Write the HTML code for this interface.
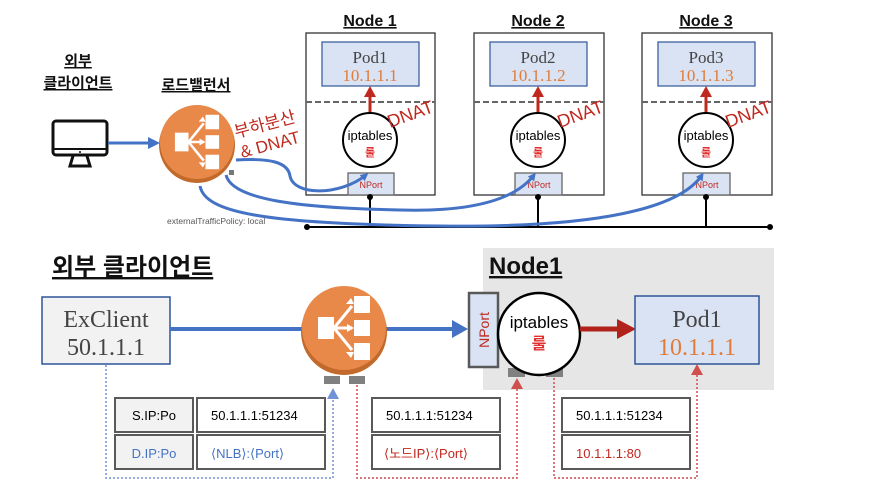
<!DOCTYPE html>
<html><head><meta charset="utf-8"><style>
body{margin:0;background:#fff}
svg{display:block;font-family:"Liberation Sans","Noto Sans CJK KR",sans-serif}
.serif{font-family:"Liberation Serif","Noto Serif CJK SC",serif}
</style></head><body>
<svg width="893" height="503" viewBox="0 0 893 503" xmlns="http://www.w3.org/2000/svg">
<defs>
<marker id="ab" markerWidth="8" markerHeight="8" refX="5" refY="4" orient="auto" markerUnits="userSpaceOnUse"><path d="M0,0 L8,4 L0,8z" fill="#4472C4"/></marker>
<g id="lbicon">
<rect x="-26" y="-11" width="16" height="22" fill="#fff"/>
<rect x="10" y="-32" width="16" height="17" fill="#fff"/>
<rect x="10" y="-8" width="16" height="16" fill="#fff"/>
<rect x="10" y="15" width="16" height="17" fill="#fff"/>
<path d="M-10,0 L8,-22 M-10,0 L8,0 M-10,0 L8,22" stroke="#fff" stroke-width="3"/>
<path d="M10,-24 l-8,0 l5,-6z M10,0 l-7,-4 l0,8z M10,24 l-8,0 l5,6z" fill="#fff"/>
</g>
</defs>

<!-- TOP -->
<g font-weight="bold" font-size="15" fill="#111">
<text x="78" y="66" text-anchor="middle" text-decoration="underline">외부</text>
<text x="78" y="88" text-anchor="middle" text-decoration="underline">클라이언트</text>
<text x="196" y="90" text-anchor="middle" text-decoration="underline">로드밸런서</text>
<text x="370" y="26" text-anchor="middle" text-decoration="underline" font-size="16">Node 1</text>
<text x="538" y="26" text-anchor="middle" text-decoration="underline" font-size="16">Node 2</text>
<text x="706" y="26" text-anchor="middle" text-decoration="underline" font-size="16">Node 3</text>
</g>
<!-- monitor -->
<rect x="53" y="121" width="54" height="34" rx="3" fill="none" stroke="#111" stroke-width="3"/>
<line x1="53" y1="149" x2="107" y2="149" stroke="#111" stroke-width="2"/>
<circle cx="80" cy="152" r="1" fill="#111"/>
<path d="M73,156 L70,166 L90,166 L87,156" fill="none" stroke="#111" stroke-width="3"/>
<line x1="108" y1="143" x2="150" y2="143" stroke="#4472C4" stroke-width="3"/>
<path d="M148,137 L160,143 L148,149z" fill="#4472C4"/>
<!-- LB top -->
<rect x="229" y="170" width="5" height="5" fill="#777"/>
<circle cx="197" cy="145" r="38" fill="#C26A2C"/>
<circle cx="197" cy="142" r="37" fill="#E8894A"/>
<use href="#lbicon" transform="translate(197,142) scale(0.85)"/>
<g fill="#C0281E" font-size="17">
<text transform="translate(236,138) rotate(-15)">부하분산</text>
<text transform="translate(242,158) rotate(-15)">&amp; DNAT</text>
</g>
<text x="167" y="224" font-size="8.5" fill="#555">externalTrafficPolicy: local</text>

<!-- Nodes -->
<g>
<rect x="306" y="33" width="129" height="162" fill="#fff" stroke="#333" stroke-width="1.3"/>
<rect x="322" y="42" width="97" height="44" fill="#DAE3F3" stroke="#2F5597" stroke-width="1.2"/>
<text x="370" y="63" text-anchor="middle" class="serif" font-size="17" fill="#444">Pod1</text>
<text x="370" y="81" text-anchor="middle" class="serif" font-size="17" fill="#E07B39">10.1.1.1</text>
<line x1="306" y1="102" x2="435" y2="102" stroke="#666" stroke-width="2" stroke-dasharray="6,3"/>
<line x1="370" y1="113" x2="370" y2="96" stroke="#C0281E" stroke-width="3"/>
<path d="M364,97 L370,86 L376,97z" fill="#C0281E"/>
<circle cx="370" cy="140" r="27" fill="#fff" stroke="#000" stroke-width="2"/>
<text x="370" y="140" text-anchor="middle" font-size="13">iptables</text>
<text x="370" y="156" text-anchor="middle" font-size="11" fill="#E03030" font-weight="bold">룰</text>
<rect x="348" y="173" width="46" height="22" fill="#DAE3F3" stroke="#666" stroke-width="1.3"/>
<text x="371" y="188" text-anchor="middle" font-size="9" fill="#C0281E">NPort</text>
<text transform="translate(390,128) rotate(-20)" font-size="18" fill="#C0281E">DNAT</text>
<circle cx="370" cy="197" r="3" fill="#000"/>
<line x1="370" y1="197" x2="370" y2="227" stroke="#000" stroke-width="2"/>
</g>
<g>
<rect x="474" y="33" width="130" height="162" fill="#fff" stroke="#333" stroke-width="1.3"/>
<rect x="490" y="42" width="97" height="44" fill="#DAE3F3" stroke="#2F5597" stroke-width="1.2"/>
<text x="538" y="63" text-anchor="middle" class="serif" font-size="17" fill="#444">Pod2</text>
<text x="538" y="81" text-anchor="middle" class="serif" font-size="17" fill="#E07B39">10.1.1.2</text>
<line x1="474" y1="102" x2="604" y2="102" stroke="#666" stroke-width="2" stroke-dasharray="6,3"/>
<line x1="538" y1="113" x2="538" y2="96" stroke="#C0281E" stroke-width="3"/>
<path d="M532,97 L538,86 L544,97z" fill="#C0281E"/>
<circle cx="538" cy="140" r="27" fill="#fff" stroke="#000" stroke-width="2"/>
<text x="538" y="140" text-anchor="middle" font-size="13">iptables</text>
<text x="538" y="156" text-anchor="middle" font-size="11" fill="#E03030" font-weight="bold">룰</text>
<rect x="515" y="173" width="47" height="22" fill="#DAE3F3" stroke="#666" stroke-width="1.3"/>
<text x="539" y="188" text-anchor="middle" font-size="9" fill="#C0281E">NPort</text>
<text transform="translate(560,128) rotate(-20)" font-size="18" fill="#C0281E">DNAT</text>
<circle cx="538" cy="197" r="3" fill="#000"/>
<line x1="538" y1="197" x2="538" y2="227" stroke="#000" stroke-width="2"/>
</g>
<g>
<rect x="642" y="33" width="130" height="162" fill="#fff" stroke="#333" stroke-width="1.3"/>
<rect x="658" y="42" width="97" height="44" fill="#DAE3F3" stroke="#2F5597" stroke-width="1.2"/>
<text x="706" y="63" text-anchor="middle" class="serif" font-size="17" fill="#444">Pod3</text>
<text x="706" y="81" text-anchor="middle" class="serif" font-size="17" fill="#E07B39">10.1.1.3</text>
<line x1="642" y1="102" x2="772" y2="102" stroke="#666" stroke-width="2" stroke-dasharray="6,3"/>
<line x1="706" y1="113" x2="706" y2="96" stroke="#C0281E" stroke-width="3"/>
<path d="M700,97 L706,86 L712,97z" fill="#C0281E"/>
<circle cx="706" cy="140" r="27" fill="#fff" stroke="#000" stroke-width="2"/>
<text x="706" y="140" text-anchor="middle" font-size="13">iptables</text>
<text x="706" y="156" text-anchor="middle" font-size="11" fill="#E03030" font-weight="bold">룰</text>
<rect x="683" y="173" width="47" height="22" fill="#DAE3F3" stroke="#666" stroke-width="1.3"/>
<text x="707" y="188" text-anchor="middle" font-size="9" fill="#C0281E">NPort</text>
<text transform="translate(728,128) rotate(-20)" font-size="18" fill="#C0281E">DNAT</text>
<circle cx="706" cy="197" r="3" fill="#000"/>
<line x1="706" y1="197" x2="706" y2="227" stroke="#000" stroke-width="2"/>
</g>
<line x1="307" y1="227" x2="770" y2="227" stroke="#000" stroke-width="2"/>
<circle cx="307" cy="227" r="3" fill="#000"/>
<circle cx="770" cy="227" r="3" fill="#000"/>
<!-- blue curves -->
<g fill="none" stroke="#4472C4" stroke-width="3" marker-end="url(#ab)">
<path d="M236,160 C270,158 288,162 290,176 C294,196 340,196 366,175"/>
<path d="M226,175 C232,200 300,208 400,210 C470,212 515,200 534,175"/>
<path d="M200,186 C205,212 260,224 440,226 C600,228 680,208 702,175"/>
</g>

<!-- BOTTOM -->
<rect x="483" y="248" width="291" height="142" fill="#E6E6E6"/>
<text x="52" y="275" font-size="24" font-weight="bold" text-decoration="underline" fill="#111">외부 클라이언트</text>
<text x="489" y="274" font-size="24" font-weight="bold" text-decoration="underline" fill="#111">Node1</text>
<rect x="42" y="297" width="128" height="67" fill="#F2F2F2" stroke="#2F5597" stroke-width="1.5"/>
<text x="106" y="327" text-anchor="middle" class="serif" font-size="24" fill="#444">ExClient</text>
<text x="106" y="355" text-anchor="middle" class="serif" font-size="24" fill="#444">50.1.1.1</text>
<line x1="170" y1="329" x2="460" y2="329" stroke="#4472C4" stroke-width="4"/>
<path d="M452,320 L468,329 L452,338z" fill="#4472C4"/>
<rect x="324" y="376" width="16" height="8" fill="#808080"/>
<rect x="349" y="376" width="16" height="8" fill="#808080"/>
<circle cx="344" cy="332" r="43" fill="#C26A2C"/>
<circle cx="344" cy="328" r="42" fill="#E8894A"/>
<use href="#lbicon" transform="translate(344,328)"/>
<rect x="469" y="293" width="29" height="74" fill="#DAE3F3" stroke="#595959" stroke-width="2.5"/>
<text transform="translate(489,330) rotate(-90)" text-anchor="middle" font-size="14" fill="#C0281E">NPort</text>
<rect x="508" y="368" width="17" height="9" fill="#808080"/>
<rect x="546" y="368" width="17" height="9" fill="#808080"/>
<circle cx="539" cy="334" r="41" fill="#fff" stroke="#000" stroke-width="2.5"/>
<text x="539" y="328" text-anchor="middle" font-size="17">iptables</text>
<text x="539" y="349" text-anchor="middle" font-size="16" fill="#E03030" font-weight="bold">룰</text>
<line x1="580" y1="329" x2="620" y2="329" stroke="#B0221A" stroke-width="5"/>
<path d="M617,319 L636,329 L617,339z" fill="#B0221A"/>
<rect x="635" y="296" width="124" height="68" fill="#DAE3F3" stroke="#2F5597" stroke-width="1.5"/>
<text x="697" y="327" text-anchor="middle" class="serif" font-size="24" fill="#444">Pod1</text>
<text x="697" y="355" text-anchor="middle" class="serif" font-size="24" fill="#E07B39">10.1.1.1</text>

<!-- tables -->
<g stroke="#595959" stroke-width="2">
<rect x="115" y="398" width="78" height="34" fill="#F2F2F2"/>
<rect x="197" y="398" width="128" height="34" fill="#fff"/>
<rect x="115" y="435" width="78" height="34" fill="#F2F2F2"/>
<rect x="197" y="435" width="128" height="34" fill="#fff"/>
<rect x="372" y="398" width="128" height="34" fill="#fff"/>
<rect x="372" y="435" width="128" height="34" fill="#fff"/>
<rect x="562" y="398" width="128" height="34" fill="#fff"/>
<rect x="562" y="435" width="128" height="34" fill="#fff"/>
</g>
<g font-size="13" stroke="none">
<text x="154" y="420" text-anchor="middle">S.IP:Po</text>
<text x="154" y="458" text-anchor="middle" fill="#4472C4">D.IP:Po</text>
<text x="211" y="420">50.1.1.1:51234</text>
<text x="211" y="458" fill="#4472C4">⟨NLB⟩:⟨Port⟩</text>
<text x="386" y="420">50.1.1.1:51234</text>
<text x="384" y="458" fill="#C0281E">⟨노드IP⟩:⟨Port⟩</text>
<text x="576" y="420">50.1.1.1:51234</text>
<text x="576" y="458" fill="#C0281E">10.1.1.1:80</text>
</g>
<!-- dotted -->
<g fill="none" stroke-width="1.5" stroke-dasharray="2,2">
<path d="M106,365 V478 H333 V398" stroke="#7092D6"/>
<path d="M357,385 V478 H517 V388" stroke="#D04A4A"/>
<path d="M554,378 V478 H697 V374" stroke="#D04A4A"/>
</g>
<path d="M327,399 L333,388 L339,399z" fill="#7092D6"/>
<path d="M511,389 L517,378 L523,389z" fill="#D05050"/>
<path d="M691,375 L697,364 L703,375z" fill="#D05050"/>
</svg>
</body></html>
